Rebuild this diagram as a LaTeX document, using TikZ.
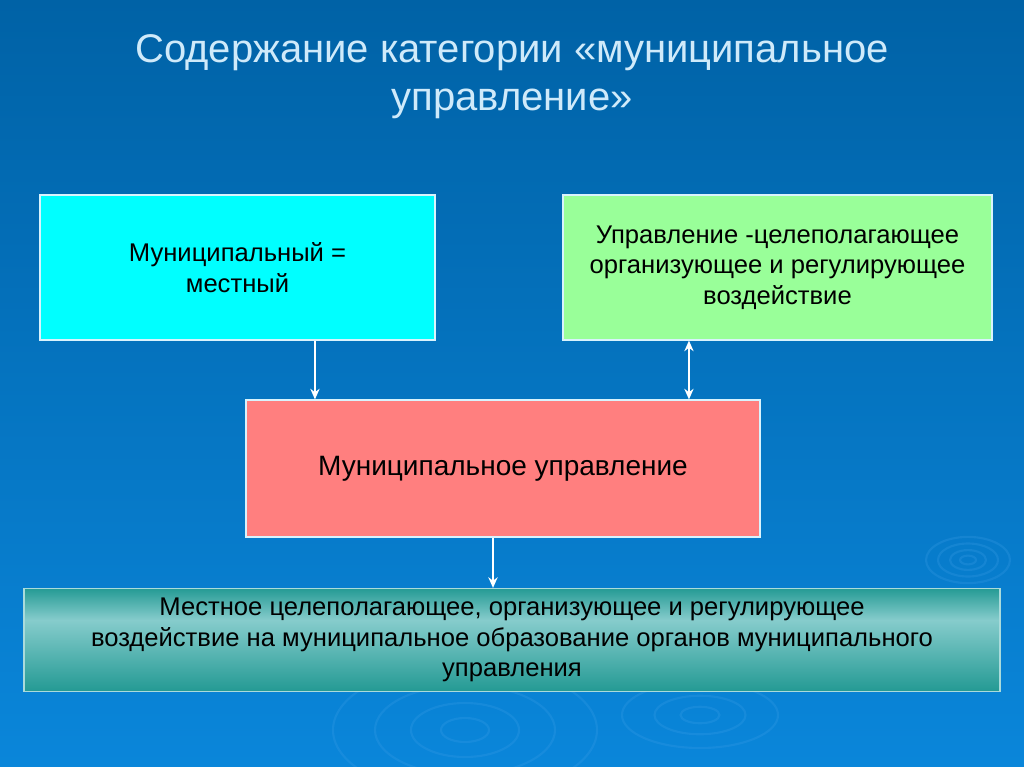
\documentclass[tikz,border=0pt]{standalone}
\usepackage{fontspec}
\setmainfont{Liberation Sans}
\usetikzlibrary{arrows.meta}
\definecolor{bgtop}{HTML}{0062A6}
\definecolor{bgbot}{HTML}{0A86DA}
\definecolor{titlecol}{HTML}{CFEAFA}
\definecolor{cyanbox}{HTML}{00FFFF}
\definecolor{greenbox}{HTML}{99FF99}
\definecolor{pinkbox}{HTML}{FF7F7F}
\definecolor{tealdark}{HTML}{249A94}
\definecolor{teallight}{HTML}{86CCCC}
\definecolor{ripple}{HTML}{3FA0E8}
\tikzset{
  box/.style={draw=white!85!cyan, line width=0.9pt, inner sep=0pt, align=center,
    font=\fontsize{19.2pt}{22.8pt}\selectfont, text=black},
  arr/.style={draw=white, line width=1.2pt, -{Stealth[length=8pt,width=7pt]}},
  darr/.style={draw=white, line width=1.2pt, {Stealth[length=8pt,width=7pt]}-{Stealth[length=8pt,width=7pt]}},
  rip/.style={draw=ripple, line width=1.6pt, opacity=0.25},
  title/.style={text=titlecol, font=\fontsize{30pt}{36pt}\selectfont, align=center}
}
\begin{document}
\begin{tikzpicture}[x=0.75pt,y=-0.75pt]
\useasboundingbox (0,0) rectangle (1024,767);
\shade[top color=bgtop, bottom color=bgbot] (0,0) rectangle (1024,767);
% ripples
\foreach \r in {8,18,30,42} \draw[rip] (968,560) ellipse ({\r*1.0} and {\r*0.55});
\foreach \r in {20,45,75,110} \draw[rip] (465,730) ellipse ({\r*1.2} and {\r*0.6});
\foreach \r in {15,35,60} \draw[rip] (700,715) ellipse ({\r*1.3} and {\r*0.55});
% title
\node[title] (title) at (512,77) {Содержание категории «муниципальное\\управление»};
% boxes
\node[box, fill=cyanbox, minimum width=296.25pt, minimum height=108.75pt] (cy) at (237.5,267.5) {Муниципальный =\\местный};
\node[box, fill=greenbox, minimum width=321.75pt, minimum height=108.75pt] (gr) at (777.5,267.5) {Управление -целеполагающее\\организующее и регулирующее\\воздействие};
\node[box, fill=pinkbox, minimum width=385.5pt, minimum height=102.75pt, font=\fontsize{21pt}{24pt}\selectfont] (pk) at (503,468.5) {Муниципальное управление};
\shade[top color=teallight, bottom color=tealdark] (24,620) rectangle (1000,691);
\shade[top color=tealdark, bottom color=teallight] (24,588) rectangle (1000,620);
\node[box, draw=teallight!70!white, minimum width=732pt, minimum height=77.25pt] (bt) at (512,640) {Местное целеполагающее, организующее и регулирующее\\воздействие на муниципальное образование органов муниципального\\управления};
% connectors
\draw[arr] ([xshift=58.1pt]cy.south) -- ([xshift=58.1pt]cy.south |- pk.north);
\draw[darr] ([xshift=-66.4pt]gr.south |- pk.north) -- ([xshift=-66.4pt]gr.south);
\draw[arr] ([xshift=-7.5pt]pk.south) -- ([xshift=-7.5pt]pk.south |- bt.north);
\end{tikzpicture}
\end{document}
